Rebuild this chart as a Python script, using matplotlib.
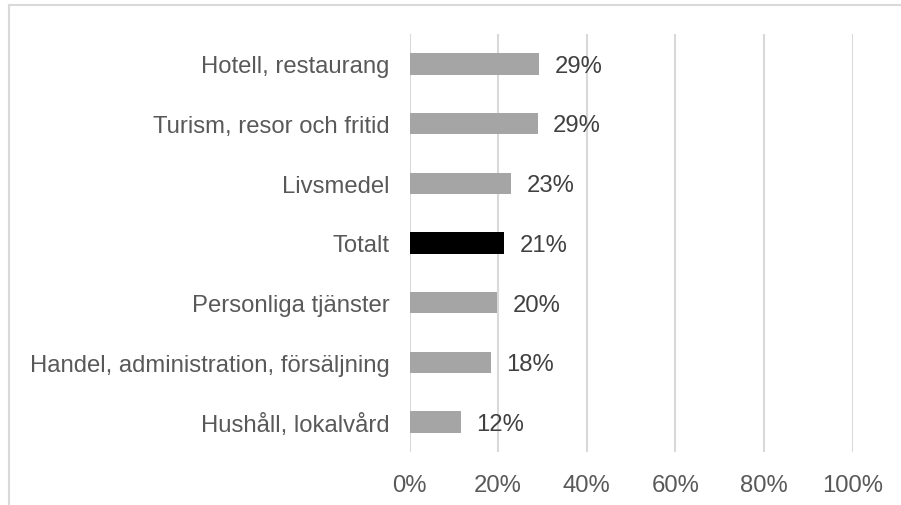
import matplotlib.pyplot as plt
from matplotlib.lines import Line2D
from matplotlib.ticker import FuncFormatter

# Share per category, top to bottom as in the chart
categories = ['Hotell, restaurang', 'Turism, resor och fritid', 'Livsmedel', 'Totalt',
              'Personliga tjänster', 'Handel, administration, försäljning', 'Hushåll, lokalvård']
values = [29.2, 28.9, 22.9, 21.3, 19.7, 18.4, 11.6]
highlight = 'Totalt'
x_ticks = [0, 20, 40, 60, 80, 100]

plt.rcParams['font.family'] = ['Liberation Sans', 'DejaVu Sans']
fs = 17.2

W, H = 901, 506
fig = plt.figure(figsize=(W / 100, H / 100), dpi=100)
ax = fig.add_axes([409.5 / W, 1 - 453 / H, (852.7 - 409.5) / W, (453 - 35) / H])

pos = list(range(len(categories)))[::-1]
colors = ['black' if c == highlight else '#A5A5A5' for c in categories]
ax.barh(pos, values, height=0.36, color=colors, zorder=3)

for p, v in zip(pos, values):
    ax.text(v + 3.5, p - 0.03, f'{v:.0f}%', va='center', ha='left', fontsize=fs, color='#404040')

ax.set_xlim(0, 100)
ax.set_ylim(-0.5, len(categories) - 0.5)
ax.set_xticks(x_ticks)
ax.xaxis.set_major_formatter(FuncFormatter(lambda x, _: f'{x:.0f}%'))
ax.set_yticks(pos)
ax.set_yticklabels(categories)
ax.tick_params(axis='both', length=0, labelsize=fs, labelcolor='#595959')
ax.tick_params(axis='x', pad=16)
ax.tick_params(axis='y', pad=14.5)
ax.grid(axis='x', color='#D9D9D9', linewidth=1.5, zorder=0)
for s in ax.spines.values():
    s.set_visible(False)

# light chart border, cut off at right and bottom
fig.add_artist(Line2D([9 / W, 1], [1 - 6 / H, 1 - 6 / H], color='#D9D9D9', linewidth=1.5))
fig.add_artist(Line2D([9 / W, 9 / W], [0, 1 - 6 / H], color='#D9D9D9', linewidth=1.5))

fig.savefig('out.png', dpi=100)
